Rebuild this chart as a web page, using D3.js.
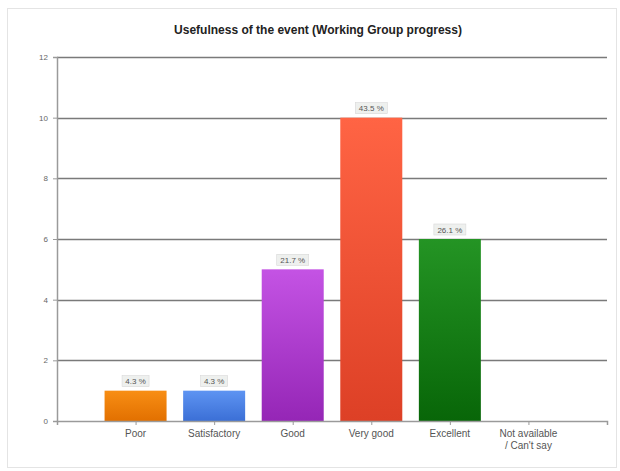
<!DOCTYPE html>
<html><head><meta charset="utf-8">
<script src="https://cdn.jsdelivr.net/npm/d3@7"></script>
<style>body{margin:0;background:#fff}svg{display:block}</style>
</head><body>
<svg id="chart" width="620" height="471"></svg>
<script>
const categories = ["Poor", "Satisfactory", "Good", "Very good", "Excellent", "Not available / Can't say"];
const counts = [1, 1, 5, 10, 6, 0];
const percentLabels = ["4.3 %", "4.3 %", "21.7 %", "43.5 %", "26.1 %", ""];
const yTicks = [0, 2, 4, 6, 8, 10, 12];
const barTop = ["#f88e14", "#5e94f2", "#c453e4", "#ff6444", "#249424", ""];
const barBottom = ["#e27000", "#3b6fd6", "#9526b6", "#dd4026", "#086608", ""];
const title = "Usefulness of the event (Working Group progress)";

const svg = d3.select("#chart");
const L = 57, R = 607, T = 57, B = 421;

svg.append("rect").attr("x", 7.5).attr("y", 8.5).attr("width", 609).attr("height", 459)
  .attr("fill", "#fff").attr("stroke", "#e4e4e4");

const x = d3.scalePoint().domain(categories).range([L, R]).padding(1);
const y = d3.scaleLinear().domain([0, 12]).range([B, T]);
const bw = 62;

const defs = svg.append("defs");
categories.forEach((c, i) => {
  if (!barTop[i]) return;
  const g = defs.append("linearGradient").attr("id", "g" + i).attr("x1", 0).attr("y1", 0).attr("x2", 0).attr("y2", 1);
  g.append("stop").attr("offset", "0%").attr("stop-color", barTop[i]);
  g.append("stop").attr("offset", "100%").attr("stop-color", barBottom[i]);
});

// gridlines
svg.append("g").selectAll("line").data(yTicks.filter(d => d > 0)).join("line")
  .attr("x1", L).attr("x2", R).attr("y1", d => Math.round(y(d)) + 0.5).attr("y2", d => Math.round(y(d)) + 0.5)
  .attr("stroke", "#7a7a7a").attr("stroke-width", 1.3);

// y axis
const ya = svg.append("g").attr("transform", `translate(${L},0)`)
  .call(d3.axisLeft(y).tickValues(yTicks).tickSize(4).tickPadding(5));
ya.select(".domain").attr("stroke", "#9a9a9a").attr("stroke-width", 1.5);
ya.selectAll(".tick line").attr("stroke", "#9a9a9a");
ya.selectAll("text").attr("fill", "#666").attr("font-size", 8).attr("font-family", "Liberation Sans, Arial, sans-serif");

// bars
svg.append("g").selectAll("rect").data(categories.map((c, i) => ({c, v: counts[i], i}))).join("rect")
  .attr("x", d => x(d.c) - bw / 2).attr("width", bw)
  .attr("y", d => y(d.v)).attr("height", d => B - y(d.v))
  .attr("fill", d => barTop[d.i] ? `url(#g${d.i})` : "none");

// x axis
const xa = svg.append("g").attr("transform", `translate(0,${B})`)
  .call(d3.axisBottom(x).tickSize(4).tickSizeOuter(4).tickFormat(""));
xa.select(".domain").attr("stroke", "#9a9a9a").attr("stroke-width", 1.5);
xa.selectAll(".tick line").attr("stroke", "#9a9a9a");

const xl = svg.append("g").selectAll("text").data(categories).join("text")
  .attr("x", d => x(d)).attr("y", 437).attr("text-anchor", "middle")
  .attr("fill", "#555").attr("font-size", 10).attr("font-family", "Liberation Sans, Arial, sans-serif");
xl.each(function(d) {
  const parts = d === "Not available / Can't say" ? ["Not available", "/ Can't say"] : [d];
  parts.forEach((p, k) => d3.select(this).append("tspan").attr("x", x(d)).attr("dy", k ? 12 : 0).text(p));
});

// value labels
const lg = svg.append("g").selectAll("g").data(categories.map((c, i) => ({c, v: counts[i], t: percentLabels[i]})).filter(d => d.t)).join("g")
  .attr("transform", d => `translate(${x(d.c)},${y(d.v) - 10})`);
lg.append("rect").attr("x", d => -d.t.length * 2.5 - 1).attr("y", -5).attr("width", d => d.t.length * 5 + 2).attr("height", 11)
  .attr("fill", "#eef0ee").attr("stroke", "#d8d8d8").attr("stroke-width", 0.6);
lg.append("text").attr("text-anchor", "middle").attr("y", 3.5).attr("font-size", 8).attr("fill", "#555")
  .attr("font-family", "Liberation Sans, Arial, sans-serif").text(d => d.t);

// title
svg.append("text").attr("x", 318).attr("y", 34).attr("text-anchor", "middle")
  .attr("font-size", 12).attr("font-weight", "bold").attr("fill", "#222")
  .attr("font-family", "Liberation Sans, Arial, sans-serif").text(title);
</script>
</body></html>
